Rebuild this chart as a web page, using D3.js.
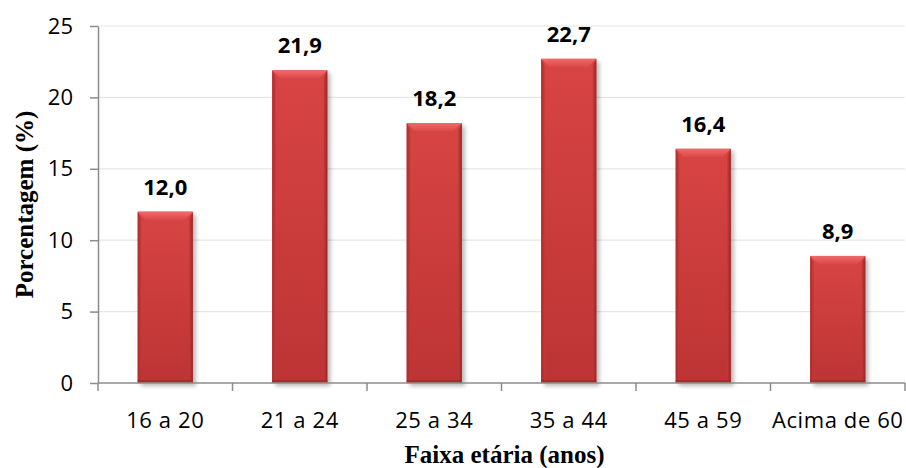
<!DOCTYPE html>
<html>
<head>
<meta charset="utf-8">
<script src="https://cdn.jsdelivr.net/npm/d3@7/dist/d3.min.js"></script>
<style>
  html, body { margin: 0; padding: 0; background: #fff; }
  svg { display: block; }
</style>
</head>
<body>
<svg id="chart" width="906" height="468"></svg>
<script>
// Age group distribution (%)
const categories = ["16 a 20", "21 a 24", "25 a 34", "35 a 44", "45 a 59", "Acima de 60"];
const values = [12.0, 21.9, 18.2, 22.7, 16.4, 8.9];
const yTicks = [0, 5, 10, 15, 20, 25];
const yTitle = "Porcentagem (%)";
const xTitle = "Faixa etária (anos)";

const svg = d3.select("#chart");
const margin = { left: 98, right: 1, top: 26, bottom: 85 };
const W = 906, H = 468;
const plotW = W - margin.left - margin.right;
const plotH = H - margin.top - margin.bottom;

const x = d3.scaleBand().domain(categories).range([0, plotW]).padding(0);
const y = d3.scaleLinear().domain([0, 25]).range([plotH, 0]);
const barW = x.bandwidth() * 0.41;
const fmt = v => v.toFixed(1).replace(".", ",");
const sans = "'Open Sans', sans-serif";
const serif = "'Liberation Serif', serif";

const defs = svg.append("defs");
const body = defs.append("linearGradient").attr("id", "barBody").attr("x1", 0).attr("y1", 0).attr("x2", 0).attr("y2", 1);
body.append("stop").attr("offset", "0%").attr("stop-color", "#d84444");
body.append("stop").attr("offset", "100%").attr("stop-color", "#bd3434");
const side = defs.append("linearGradient").attr("id", "barSide").attr("x1", 0).attr("y1", 0).attr("x2", 1).attr("y2", 0);
side.append("stop").attr("offset", "0%").attr("stop-color", "#a52727");
side.append("stop").attr("offset", "100%").attr("stop-color", "#c23a3a");
const sideR = defs.append("linearGradient").attr("id", "barSideR").attr("x1", 0).attr("y1", 0).attr("x2", 1).attr("y2", 0);
sideR.append("stop").attr("offset", "0%").attr("stop-color", "#c23a3a");
sideR.append("stop").attr("offset", "100%").attr("stop-color", "#9c2222");
const topG = defs.append("linearGradient").attr("id", "barTop").attr("x1", 0).attr("y1", 0).attr("x2", 0).attr("y2", 1);
topG.append("stop").attr("offset", "0%").attr("stop-color", "#ef6a6a");
topG.append("stop").attr("offset", "100%").attr("stop-color", "#dc4a4a");
defs.append("filter").attr("id", "shadow").attr("x", "-20%").attr("y", "-20%").attr("width", "140%").attr("height", "140%")
  .append("feGaussianBlur").attr("stdDeviation", 2.2);

const g = svg.append("g").attr("transform", `translate(${margin.left},${margin.top})`);

// Gridlines
g.append("g").selectAll("line").data(yTicks.filter(t => t > 0)).join("line")
  .attr("x1", 0).attr("x2", plotW)
  .attr("y1", d => y(d)).attr("y2", d => y(d))
  .attr("stroke", "#e6e6e6").attr("stroke-width", 1.2);

// Y axis
const yAxis = g.append("g")
  .call(d3.axisLeft(y).tickValues(yTicks).tickSize(8).tickSizeOuter(0).tickPadding(17));
yAxis.select(".domain").attr("stroke", "#8c8c8c").attr("stroke-width", 1.5);
yAxis.selectAll(".tick line").attr("stroke", "#8c8c8c").attr("stroke-width", 1.5);
yAxis.selectAll(".tick text").attr("font-family", sans).attr("font-size", 22).attr("fill", "#000");

// Bars with bevelled look
const bars = g.append("g").selectAll("g").data(values).join("g")
  .attr("transform", (d, i) => `translate(${x(categories[i]) + (x.bandwidth() - barW) / 2},0)`);

bars.append("rect")
  .attr("x", 3).attr("y", d => y(d) + 3)
  .attr("width", barW).attr("height", d => plotH - y(d))
  .attr("fill", "#000").attr("opacity", 0.28).attr("filter", "url(#shadow)");

bars.append("rect")
  .attr("x", 0).attr("y", d => y(d))
  .attr("width", barW).attr("height", d => plotH - y(d))
  .attr("fill", "url(#barBody)");

const bev = 8;
bars.append("polygon")
  .attr("points", d => {
    const t = y(d);
    return [[0, t], [barW, t], [barW - bev, t + bev], [bev, t + bev]].map(p => p.join(",")).join(" ");
  })
  .attr("fill", "url(#barTop)");
bars.append("polygon")
  .attr("points", d => {
    const t = y(d);
    return [[0, t], [bev * 0.45, t + bev * 0.9], [bev * 0.45, plotH - 3], [0, plotH]].map(p => p.join(",")).join(" ");
  })
  .attr("fill", "url(#barSide)").attr("opacity", 0.8);
bars.append("polygon")
  .attr("points", d => {
    const t = y(d);
    return [[barW, t], [barW - bev * 0.45, t + bev * 0.9], [barW - bev * 0.45, plotH - 3], [barW, plotH]].map(p => p.join(",")).join(" ");
  })
  .attr("fill", "url(#barSideR)").attr("opacity", 0.9);
bars.append("rect")
  .attr("x", 0).attr("y", plotH - 3).attr("width", barW).attr("height", 3)
  .attr("fill", "#9e2424").attr("opacity", 0.6);

// Value labels
bars.append("text")
  .attr("x", barW / 2).attr("y", d => y(d) - 17)
  .attr("text-anchor", "middle")
  .attr("font-family", sans).attr("font-weight", "bold").attr("font-size", 22)
  .attr("fill", "#000")
  .text(d => fmt(d));

// X axis: boundary ticks and centered labels
const xa = g.append("g").attr("transform", `translate(0,${plotH})`);
xa.append("line").attr("x1", 0).attr("x2", plotW).attr("stroke", "#8c8c8c").attr("stroke-width", 1.5);
const bounds = categories.map(c => x(c)).concat([plotW]);
xa.selectAll("line.b").data(bounds).join("line").attr("class", "b")
  .attr("x1", d => d).attr("x2", d => d).attr("y1", 0).attr("y2", 8)
  .attr("stroke", "#8c8c8c").attr("stroke-width", 1.5);
xa.selectAll("text").data(categories).join("text")
  .attr("x", d => x(d) + x.bandwidth() / 2).attr("y", 45)
  .attr("text-anchor", "middle")
  .attr("font-family", sans).attr("font-size", 22).attr("letter-spacing", 0.6).attr("fill", "#000")
  .text(d => d);

// Axis titles
svg.append("text")
  .attr("transform", `translate(33,${margin.top + plotH / 2}) rotate(-90)`)
  .attr("text-anchor", "middle")
  .attr("font-family", serif).attr("font-weight", "bold").attr("font-size", 25)
  .text(yTitle);
svg.append("text")
  .attr("x", margin.left + plotW / 2 + 3).attr("y", 463)
  .attr("text-anchor", "middle")
  .attr("font-family", serif).attr("font-weight", "bold").attr("font-size", 25)
  .text(xTitle);
</script>
</body>
</html>
